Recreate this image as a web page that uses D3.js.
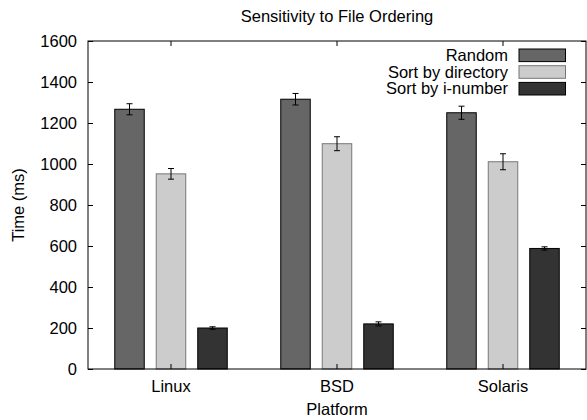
<!DOCTYPE html>
<html><head><meta charset="utf-8">
<script src="https://cdn.jsdelivr.net/npm/d3@7"></script>
<style>body{margin:0;background:#fff}text{font-family:"Liberation Sans",Arial,sans-serif}</style>
</head><body>
<svg id="c" width="587" height="420"></svg>
<script>
const categories = ["Linux", "BSD", "Solaris"];
const seriesNames = ["Random", "Sort by directory", "Sort by i-number"];
const randomVals = [1267, 1316, 1250];
const randomErr = [27, 28, 32];
const dirVals = [952, 1099, 1011];
const dirErr = [26, 34, 39];
const inumVals = [200, 220, 588];
const inumErr = [6, 10, 8];
const yTicks = [0, 200, 400, 600, 800, 1000, 1200, 1400, 1600];

const fills = ["#666666", "#cccccc", "#333333"];
const strokes = ["#000000", "#777777", "#000000"];
const series = [
  {name: seriesNames[0], vals: randomVals, err: randomErr},
  {name: seriesNames[1], vals: dirVals, err: dirErr},
  {name: seriesNames[2], vals: inumVals, err: inumErr}
];

const svg = d3.select("#c");
const L = 88, R = 586, T = 41, B = 369;
const x = d3.scaleBand().domain(categories).range([L, R]).padding(0);
const y = d3.scaleLinear().domain([0, 1600]).range([B, T]);
const bw = 29.5, step = 41.5;

// bars
series.forEach((s, si) => {
  const g = svg.append("g");
  categories.forEach((c, ci) => {
    const cx = x(c) + x.bandwidth() / 2 + (si - 1) * step;
    g.append("rect")
      .attr("x", cx - bw / 2).attr("y", y(s.vals[ci]))
      .attr("width", bw).attr("height", y(0) - y(s.vals[ci]))
      .attr("fill", fills[si]).attr("stroke", strokes[si]).attr("stroke-width", 1);
    const y1 = y(s.vals[ci] + s.err[ci]), y2 = y(s.vals[ci] - s.err[ci]);
    g.append("line").attr("x1", cx).attr("x2", cx).attr("y1", y1).attr("y2", y2).attr("stroke", "#000").attr("stroke-width", 1);
    g.append("line").attr("x1", cx - 3).attr("x2", cx + 3).attr("y1", y1).attr("y2", y1).attr("stroke", "#000").attr("stroke-width", 1);
    g.append("line").attr("x1", cx - 3).attr("x2", cx + 3).attr("y1", y2).attr("y2", y2).attr("stroke", "#000").attr("stroke-width", 1);
  });
});

// axes
const fs = "16.5px";
const yAxisL = d3.axisLeft(y).tickValues(yTicks).tickSize(-5).tickPadding(11).tickFormat(d3.format("d"));
const gl = svg.append("g").attr("transform", `translate(${L},0)`).call(yAxisL);
const yAxisR = d3.axisRight(y).tickValues(yTicks).tickSize(-5).tickFormat("");
const gr = svg.append("g").attr("transform", `translate(${R},0)`).call(yAxisR);
const xAxisB = d3.axisBottom(x).tickSize(-5).tickPadding(11);
const gb = svg.append("g").attr("transform", `translate(0,${B})`).call(xAxisB);
const xAxisT = d3.axisTop(x).tickSize(-5).tickFormat("");
const gt = svg.append("g").attr("transform", `translate(0,${T})`).call(xAxisT);
[gl, gr, gb, gt].forEach(g => {
  g.select(".domain").remove();
  g.selectAll(".tick line").attr("stroke", "#000");
  g.selectAll("text").attr("font-size", fs).attr("fill", "#000").style("font-family", '"Liberation Sans",Arial,sans-serif');
});
svg.append("rect").attr("x", L).attr("y", T).attr("width", R - L).attr("height", B - T)
  .attr("fill", "none").attr("stroke", "#000").attr("stroke-width", 1);

// titles
svg.append("text").attr("x", (L + R) / 2).attr("y", 22).attr("text-anchor", "middle").attr("font-size", fs).text("Sensitivity to File Ordering");
svg.append("text").attr("x", (L + R) / 2).attr("y", 415).attr("text-anchor", "middle").attr("font-size", fs).text("Platform");
svg.append("text").attr("transform", `translate(23.5,${(T + B) / 2}) rotate(-90)`).attr("text-anchor", "middle").attr("font-size", fs).text("Time (ms)");

// legend
const lg = svg.append("g");
series.forEach((s, i) => {
  const yy = 55.3 + i * 16.7;
  lg.append("text").attr("x", 508).attr("y", yy + 5.5).attr("text-anchor", "end").attr("font-size", fs).text(s.name);
  lg.append("rect").attr("x", 519).attr("y", yy - 6.3).attr("width", 46.5).attr("height", 12.6)
    .attr("fill", fills[i]).attr("stroke", strokes[i]).attr("stroke-width", 1);
});
</script>
</body></html>
